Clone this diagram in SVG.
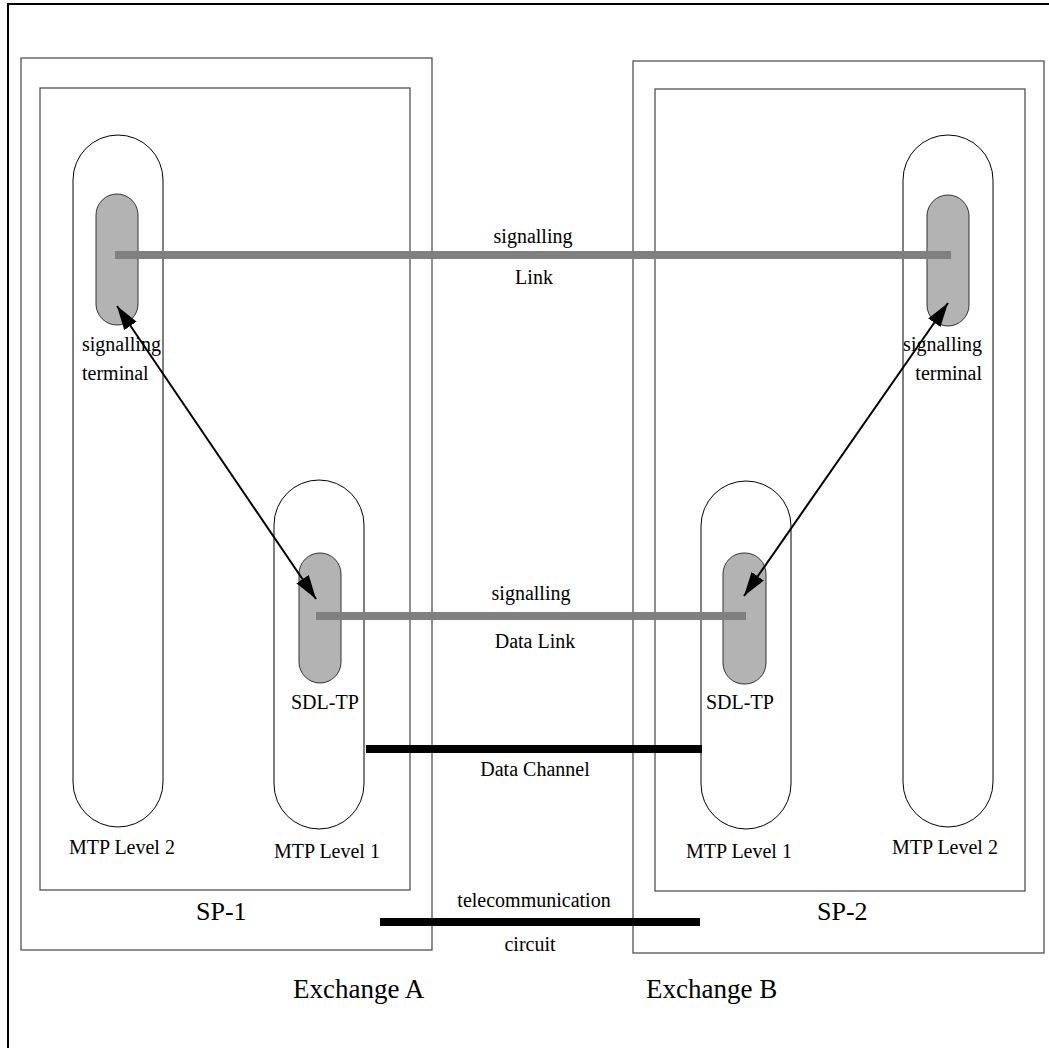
<svg xmlns="http://www.w3.org/2000/svg" width="1049" height="1048" viewBox="0 0 1049 1048">
<style>
.box{fill:none;stroke:#444;stroke-width:1.2}
.cap{fill:none;stroke:#000;stroke-width:1}
.gray{fill:#b3b3b3;stroke:#333;stroke-width:1}
.glink{stroke:#808080;stroke-width:8}
.blink{stroke:#000;stroke-width:8}
.arr{stroke:#000;stroke-width:2;fill:none;marker-start:url(#ah);marker-end:url(#ah)}
text{font-family:"Liberation Serif","Times New Roman",serif;font-size:20px;fill:#000}
.big{font-size:26px}
.bigger{font-size:27px}
.mid{text-anchor:middle}
.end{text-anchor:end}
</style>
<defs>
<marker id="ah" markerUnits="userSpaceOnUse" markerWidth="26" markerHeight="16" refX="24" refY="7.5" orient="auto-start-reverse">
<path d="M0,0 L24,7.5 L0,15 z" fill="#000"/>
</marker>
</defs>
<rect x="0" y="0" width="1049" height="1048" fill="#fff"/>
<rect x="8" y="4" width="1100" height="1100" fill="none" stroke="#000" stroke-width="2"/>

<g id="exchangeA">
<rect class="box" x="21" y="58" width="411" height="892"/>
<text class="bigger" x="293" y="998">Exchange A</text>
</g>
<g id="exchangeB">
<rect class="box" x="633" y="61" width="411" height="892"/>
<text class="bigger" x="646" y="998">Exchange B</text>
</g>
<g id="sp1">
<rect class="box" x="40" y="88" width="370" height="802"/>
<text class="big" x="196" y="920">SP-1</text>
</g>
<g id="sp2">
<rect class="box" x="655" y="89" width="370" height="802"/>
<text class="big" x="817" y="920">SP-2</text>
</g>
<g id="mtp2-left">
<rect class="cap" x="73" y="135" width="90" height="692" rx="45"/>
<text x="69" y="854">MTP Level 2</text>
</g>
<g id="mtp1-left">
<rect class="cap" x="274" y="480" width="90" height="349" rx="45"/>
<text x="274" y="858">MTP Level 1</text>
</g>
<g id="mtp1-right">
<rect class="cap" x="701" y="481" width="90" height="348" rx="45"/>
<text x="686" y="858">MTP Level 1</text>
</g>
<g id="mtp2-right">
<rect class="cap" x="903" y="135" width="90" height="692" rx="45"/>
<text x="892" y="854">MTP Level 2</text>
</g>
<g id="st-left">
<rect class="gray" x="96" y="194" width="42" height="131" rx="21"/>
<text x="82" y="351">signalling</text>
<text x="82" y="380">terminal</text>
</g>
<g id="st-right">
<rect class="gray" x="927" y="195" width="42" height="131" rx="21"/>
<text class="end" x="982" y="351">signalling</text>
<text class="end" x="982" y="380">terminal</text>
</g>
<g id="sdltp-left">
<rect class="gray" x="299" y="553" width="42" height="130" rx="21"/>
<text x="291" y="709">SDL-TP</text>
</g>
<g id="sdltp-right">
<rect class="gray" x="723" y="553" width="43" height="131" rx="21"/>
<text x="706" y="709">SDL-TP</text>
</g>

<g id="connectors">
<line class="glink" x1="115" y1="255" x2="951" y2="255"/>
<line class="glink" x1="316" y1="616" x2="746" y2="616"/>
<line class="blink" x1="366" y1="749" x2="702" y2="749"/>
<line class="blink" x1="380" y1="922" x2="700" y2="922"/>
<line class="arr" x1="117" y1="306" x2="316" y2="599"/>
<line class="arr" x1="744" y1="596" x2="948" y2="303"/>
<text class="mid" x="533" y="243">signalling</text>
<text class="mid" x="534" y="284">Link</text>
<text class="mid" x="531" y="600">signalling</text>
<text class="mid" x="535" y="648">Data Link</text>
<text class="mid" x="535" y="776">Data Channel</text>
<text class="mid" x="534" y="907">telecommunication</text>
<text class="mid" x="530" y="951">circuit</text>
</g>
</svg>
